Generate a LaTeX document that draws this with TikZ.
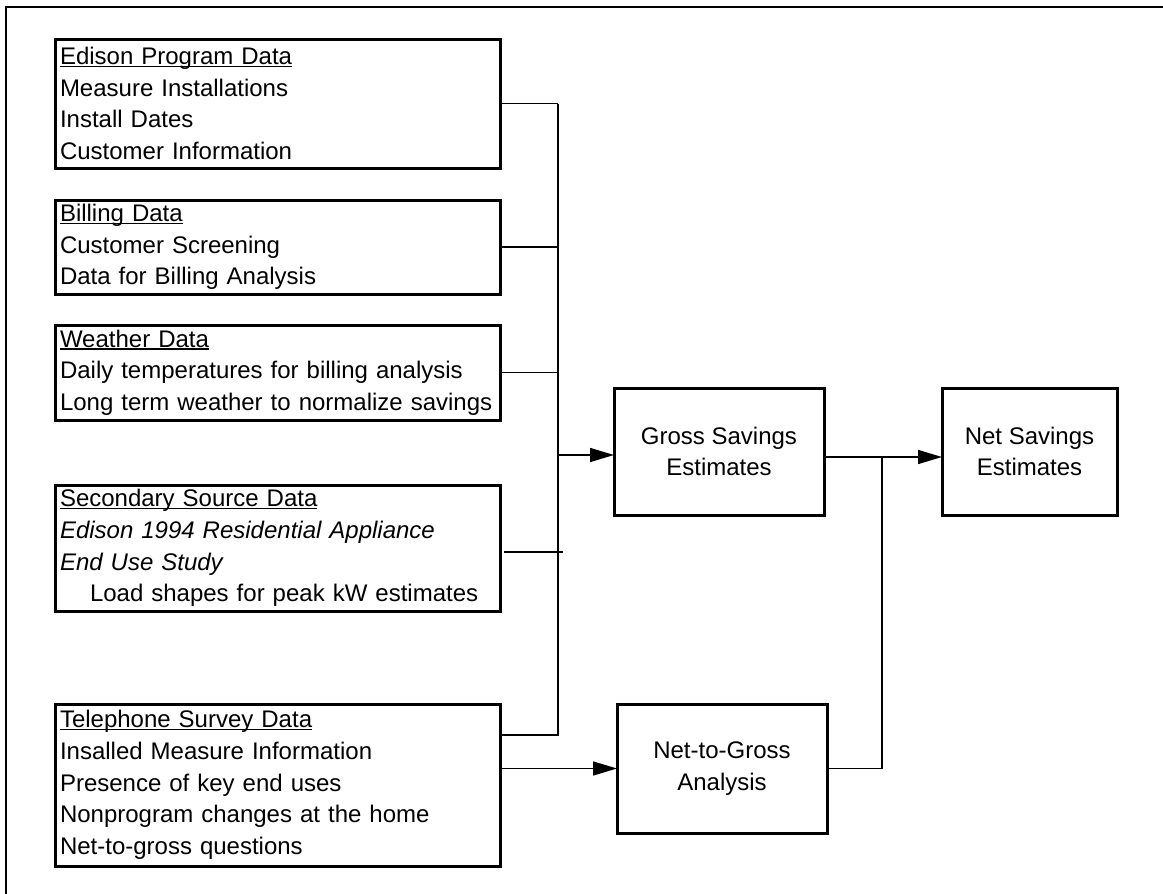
\documentclass[tikz,border=0pt]{standalone}
\usepackage{fontspec}
\setmainfont{Liberation Sans}
\usetikzlibrary{arrows.meta,calc}
\newcommand\myul[1]{\setbox0\hbox{#1}\rlap{\rule[-2.6pt]{\wd0}{1.4pt}}\box0}
\begin{document}
\begin{tikzpicture}[x=1pt,y=-1pt,
  txt/.style={font=\fontsize{24}{31.7}\selectfont},
  src/.style={txt, draw, line width=3pt, anchor=north west, inner xsep=5pt, inner ysep=0pt,
    outer sep=0pt, align=left, text width=435pt},
  proc/.style={txt, draw, line width=3pt, anchor=north west, outer sep=0pt, align=center},
  conn/.style={line width=1.5pt},
  arr/.style={conn, -{Triangle[length=24pt,width=14pt]}}]
\useasboundingbox (0,0) rectangle (1163,894);
\draw[line width=2.5pt] (6,900) -- (6,7) -- (1170,7);

\node[src, minimum height=129pt] (edison) at (55,39)
  {\myul{Edison Program Data}\\Measure Installations\\Install Dates\\Customer Information};
\node[src, minimum height=94pt] (billing) at (55,200)
  {\myul{Billing Data}\\Customer Screening\\Data for Billing Analysis};
\node[src, minimum height=95pt] (weather) at (55,325)
  {\myul{Weather Data}\\Daily temperatures for billing analysis\\Long term weather to normalize savings};
\node[src, minimum height=126pt] (secondary) at (55,485)
  {\myul{Secondary Source Data}\\\textit{Edison 1994 Residential Appliance}\\\textit{End Use Study}\\\hspace*{30pt}Load shapes for peak kW estimates};
\node[src, minimum height=162pt] (telephone) at (55,704)
  {\myul{Telephone Survey Data}\\Insalled Measure Information\\Presence of key end uses\\Nonprogram changes at the home\\Net-to-gross questions};

\node[proc, minimum width=210pt, minimum height=127pt] (gross) at (614,388) {Gross Savings\\Estimates};
\node[proc, minimum width=175pt, minimum height=127pt] (net) at (942,388) {Net Savings\\Estimates};
\node[proc, minimum width=210pt, minimum height=129pt] (ntg) at (617,704) {Net-to-Gross\\Analysis};

\coordinate (bus) at (558,0);
\coordinate (merge) at (882,0);

\draw[conn] (edison.east) -- (edison.east -| bus);
\draw[conn] (billing.east) -- (billing.east -| bus);
\draw[conn] (weather.east) -- (weather.east -| bus);
\draw[conn] ([xshift=4pt,yshift=-4pt]secondary.east) -- ++(59,0);
\draw[conn] ([yshift=50pt]telephone.east) -| (edison.east -| bus);
\draw[arr] ([yshift=-3.5pt]gross.west -| bus) -- ([yshift=-3.5pt]gross.west);
\draw[arr] ([yshift=-5.5pt]gross.east) -- ([yshift=-5.5pt]net.west);
\draw[arr] (telephone.east |- ntg.west) -- (ntg.west);
\draw[conn] (ntg.east) -| ([yshift=-5.5pt]gross.east -| merge);
\end{tikzpicture}
\end{document}
